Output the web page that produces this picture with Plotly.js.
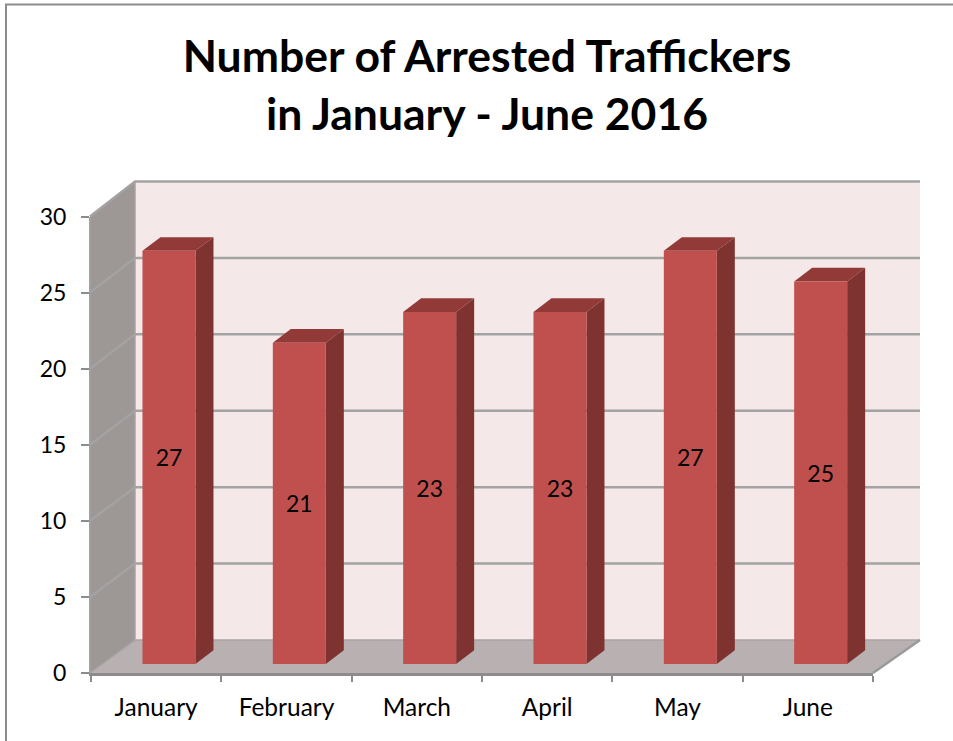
<!DOCTYPE html>
<html>
<head>
<meta charset="utf-8">
<script src="https://cdn.plot.ly/plotly-3.0.1.min.js"></script>
<style>html,body{margin:0;padding:0;background:#fff}</style>
</head>
<body>
<div id="chart" style="width:953px;height:741px"></div>
<script>
const months = ["January", "February", "March", "April", "May", "June"];
const arrested = [27, 21, 23, 23, 27, 25];
const gridValues = [5, 10, 15, 20, 25, 30];

const W = 953, H = 741;
// pixel geometry of the pseudo-3D frame
const catW = 782 / 6, x0 = 91 + catW / 2, unit = 15.3, y0 = 673;
const X = px => (px - x0) / catW;
const Y = py => (y0 - py) / unit;
const backL = 135, backR = 920, backB = 640, backT = 181.5, frontL = 90, frontR = 873, frontT = 216.5;
const barLeft = -0.105, barWidth = 53 / catW, barBase = 0.59;
const depthX = 18 / catW, depthY = 13.7 / unit;
const backScale = (backB - backT) / 30 / unit;

function poly(xs, ys, color, name) {
  return {type: 'scatter', mode: 'lines', x: xs, y: ys, fill: 'toself', fillcolor: color,
    line: {width: 0, color: color}, hoverinfo: 'skip', showlegend: false, name: name, xaxis: 'x', yaxis: 'y'};
}
function line(xs, ys, color, width, name) {
  return {type: 'scatter', mode: 'lines', x: xs, y: ys, line: {color: color, width: width},
    hoverinfo: 'skip', showlegend: false, name: name, xaxis: 'x', yaxis: 'y'};
}

const traces = [];
traces.push(poly([X(backL), X(backR), X(backR), X(backL), X(backL)], [Y(backB), Y(backB), Y(backT), Y(backT), Y(backB)], '#f5e8e8', 'back wall'));
traces.push(poly([X(frontL), X(backL), X(backL), X(frontL), X(frontL)], [Y(y0), Y(backB), Y(backT), Y(frontT), Y(y0)], '#9d9795', 'side wall'));
traces.push(poly([X(frontL), X(backL), X(backR), X(frontR), X(frontL)], [Y(y0), Y(backB), Y(backB), Y(y0), Y(y0)], '#b9b1b1', 'floor'));

// gridlines on both walls
const gx = [], gy = [];
gridValues.forEach(v => {
  const by = Y(backB) + v * backScale;
  const fy = Y(y0) + v * (y0 - frontT) / 30 / unit;
  gx.push(X(frontL), X(backL), X(backR), null);
  gy.push(fy, by, by, null);
});
traces.push(line(gx, gy, '#a3a3a3', 2.5, 'gridlines'));
traces.push(line([X(backL), X(backL)], [Y(backB), Y(backT)], '#a8a3a2', 1.5, 'corner'));
traces.push(line([X(frontL), X(backL), X(backR)], [Y(y0), Y(backB), Y(backB)], '#a8a3a2', 1.5, 'floor back'));
traces.push(line([X(frontR), X(backR)], [Y(y0), Y(backB)], '#9a9a9a', 2.5, 'floor edge'));

// bar side and top faces, from the values
const sx = [], sy = [], tx = [], ty = [];
arrested.forEach((v, i) => {
  const l = i + barLeft, r = l + barWidth, b = barBase, t = barBase + v;
  sx.push(r, r + depthX, r + depthX, r, r, null);
  sy.push(b, b + depthY, t + depthY, t, b, null);
  tx.push(l, l + depthX, r + depthX, r, l, null);
  ty.push(t, t + depthY, t + depthY, t, t, null);
});
traces.push(poly(sx, sy, '#7e3331', 'bar sides'));
traces.push(poly(tx, ty, '#913a38', 'bar tops'));

// axis carrier
traces.push({type: 'scatter', mode: 'none', x: months, y: arrested, hoverinfo: 'skip', showlegend: false,
  xaxis: 'x2', yaxis: 'y2'});

// bar fronts
traces.push({type: 'bar', x: months, y: arrested, base: barBase, offset: barLeft, width: barWidth,
  marker: {color: '#c0504d', line: {width: 0}},
  text: arrested.map(String), textposition: 'inside', insidetextanchor: 'middle', textangle: 0,
  constraintext: 'none', textfont: {family: 'Lato, sans-serif', size: 23, color: '#000'},
  showlegend: false, name: 'Arrested traffickers', xaxis: 'x2', yaxis: 'y3'});

const gray = '#8c8c8c';
const layout = {
  width: W, height: H, autosize: false,
  margin: {l: 0, r: 0, t: 0, b: 0, pad: 0},
  paper_bgcolor: '#fff', plot_bgcolor: 'rgba(0,0,0,0)',
  showlegend: false,
  font: {family: 'Lato, sans-serif', color: '#000'},
  title: {text: 'Number of Arrested Traffickers<br>in January - June 2016',
    x: 487 / W, xanchor: 'center', xref: 'paper', y: 1 - 72 / H, yanchor: 'top', yref: 'container',
    font: {family: 'Lato, sans-serif', size: 44.5, color: '#000', weight: 700, shadow: 'none'}},
  xaxis: {domain: [0, 1], range: [X(0), X(W)], visible: false, fixedrange: true},
  yaxis: {domain: [0, 1], range: [Y(H), Y(0)], visible: false, fixedrange: true},
  xaxis2: {domain: [91 / W, 873 / W], anchor: 'y2', type: 'category', categoryorder: 'array', categoryarray: months,
    range: [-0.5, 5.5], tickson: 'boundaries', ticks: 'outside', ticklen: 6, tickwidth: 2, tickcolor: gray,
    showline: true, linewidth: 3, linecolor: gray, showgrid: false, zeroline: false, fixedrange: true,
    ticklabelstandoff: 11, tickfont: {family: 'Lato, sans-serif', size: 24.5, color: '#000'}},
  yaxis2: {domain: [(H - y0) / H, (H - frontT) / H], anchor: 'x2', range: [0, 30], tickmode: 'array',
    tickvals: [0].concat(gridValues), ticks: 'outside', ticklen: 8, tickwidth: 2, tickcolor: gray,
    showline: true, linewidth: 2, linecolor: '#a0a0a0', showgrid: false, zeroline: false, fixedrange: true,
    ticklabelstandoff: 10, tickfont: {family: 'Lato, sans-serif', size: 23, color: '#000'}},
  yaxis3: {overlaying: 'y2', anchor: 'x2', side: 'left', range: [0, (y0 - frontT) / unit], visible: false, fixedrange: true},
  shapes: [
    {type: 'line', xref: 'paper', yref: 'paper', x0: 6 / W, x1: 6 / W, y0: 0, y1: 1 - 4 / H, line: {color: gray, width: 2}},
    {type: 'line', xref: 'paper', yref: 'paper', x0: 5 / W, x1: 1, y0: 1 - 4.5 / H, y1: 1 - 4.5 / H, line: {color: gray, width: 2}}
  ]
};
Plotly.newPlot('chart', traces, layout, {displayModeBar: false, staticPlot: true});
</script>
</body>
</html>
